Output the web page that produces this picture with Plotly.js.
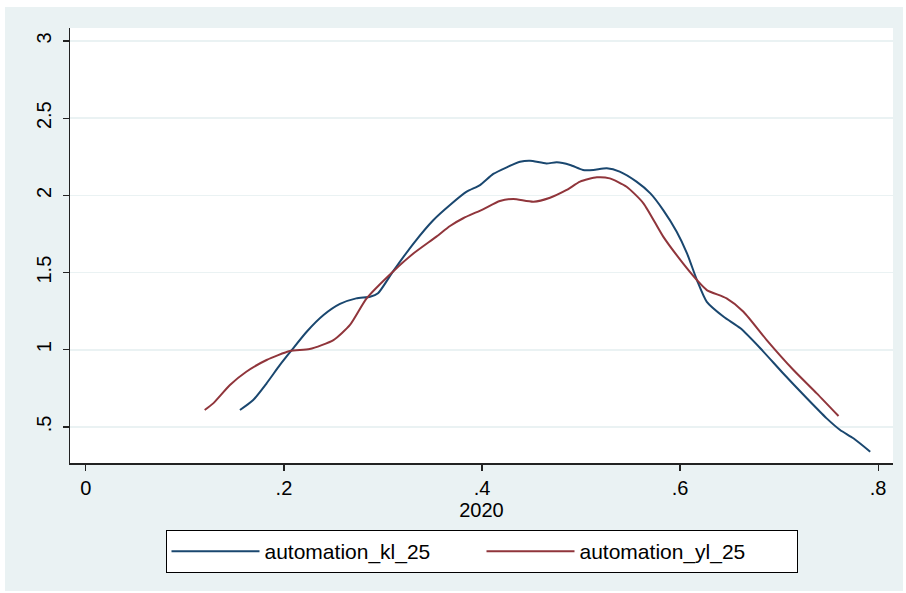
<!DOCTYPE html>
<html>
<head>
<meta charset="utf-8">
<script src="https://cdn.plot.ly/plotly-3.0.1.min.js"></script>
<style>
html,body{margin:0;padding:0;background:#ffffff;}
#chart{position:absolute;left:5px;top:7px;width:898px;height:584px;}
</style>
</head>
<body>
<div id="chart"></div>
<script>
// automation_kl_25 (navy)
const klX = [0.1556,0.169,0.1825,0.196,0.208,0.223,0.240,0.2566,0.273,0.287,0.295,0.310,0.331,0.351,0.3677,0.3845,0.398,0.4114,0.425,0.4384,0.4485,0.465,0.4755,0.489,0.502,0.5125,0.526,0.539,0.556,0.570,0.583,0.5966,0.607,0.617,0.627,0.644,0.661,0.681,0.704,0.728,0.748,0.7616,0.775,0.792];
const klY = [0.610,0.675,0.783,0.902,0.999,1.117,1.225,1.297,1.333,1.344,1.366,1.506,1.690,1.841,1.938,2.024,2.067,2.139,2.182,2.218,2.225,2.207,2.214,2.197,2.165,2.165,2.175,2.154,2.089,2.013,1.905,1.765,1.625,1.452,1.311,1.214,1.139,1.010,0.848,0.686,0.556,0.481,0.427,0.340];
// automation_yl_25 (maroon)
const ylX = [0.120,0.1286,0.1455,0.162,0.1825,0.206,0.226,0.250,0.2667,0.2835,0.310,0.331,0.354,0.3677,0.381,0.401,0.418,0.4316,0.452,0.4687,0.4855,0.499,0.516,0.529,0.546,0.563,0.583,0.603,0.617,0.627,0.647,0.664,0.6875,0.7145,0.738,0.760];
const ylY = [0.610,0.653,0.772,0.858,0.934,0.992,1.005,1.063,1.161,1.333,1.506,1.625,1.733,1.802,1.852,1.910,1.964,1.977,1.959,1.985,2.035,2.089,2.117,2.110,2.056,1.949,1.733,1.560,1.452,1.387,1.333,1.247,1.063,0.869,0.718,0.571];

const xTickVals = [0,0.2,0.4,0.6,0.8];
const xTickText = ['0','.2','.4','.6','.8'];
const yTickVals = [0.5,1,1.5,2,2.5,3];
const yTickText = ['.5','1','1.5','2','2.5','3'];
const seriesNames = ['automation_kl_25','automation_yl_25'];
const xTitle = '2020';

const FONT = 'Liberation Sans, Arial, sans-serif';

const traces = [
  {x: klX, y: klY, name: seriesNames[0], type: 'scatter', mode: 'lines',
   line: {color: '#1a476f', width: 2, shape: 'spline', smoothing: 0.6}},
  {x: ylX, y: ylY, name: seriesNames[1], type: 'scatter', mode: 'lines',
   line: {color: '#90353b', width: 2, shape: 'spline', smoothing: 0.6}}
];

const layout = {
  width: 898, height: 584,
  paper_bgcolor: '#eaf2f3',
  plot_bgcolor: '#ffffff',
  margin: {l: 65, r: 10, t: 21, b: 128},
  font: {family: FONT, size: 20, color: '#000000'},
  showlegend: true,
  legend: {
    orientation: 'h', x: 0.5, xanchor: 'center', y: -0.154, yanchor: 'top',
    bgcolor: '#ffffff', bordercolor: '#000000', borderwidth: 1,
    font: {family: FONT, size: 21, color: '#000000'},
    itemwidth: 88, entrywidth: 212, tracegroupgap: 0
  },
  xaxis: {
    range: [-0.016, 0.815], tickvals: xTickVals, ticktext: xTickText,
    showgrid: false, zeroline: false,
    showline: true, linecolor: '#222222', linewidth: 1.5,
    ticks: 'outside', ticklen: 6, tickwidth: 1.2, tickcolor: '#222222',
    tickfont: {family: FONT, size: 20, color: '#000000'},
    title: {text: xTitle, font: {family: FONT, size: 20, color: '#000000'}, standoff: 2},
    automargin: false
  },
  yaxis: {
    range: [0.267, 3.084], tickvals: yTickVals, ticktext: yTickText,
    tickangle: -90, ticklabelstandoff: 4,
    showgrid: true, gridcolor: '#eaf2f3', gridwidth: 1.5, zeroline: false,
    showline: true, linecolor: '#222222', linewidth: 1.5,
    ticks: 'outside', ticklen: 6, tickwidth: 1.2, tickcolor: '#222222',
    tickfont: {family: FONT, size: 20, color: '#000000'},
    automargin: false
  }
};

Plotly.newPlot('chart', traces, layout, {displayModeBar: false, staticPlot: true});
</script>
</body>
</html>
